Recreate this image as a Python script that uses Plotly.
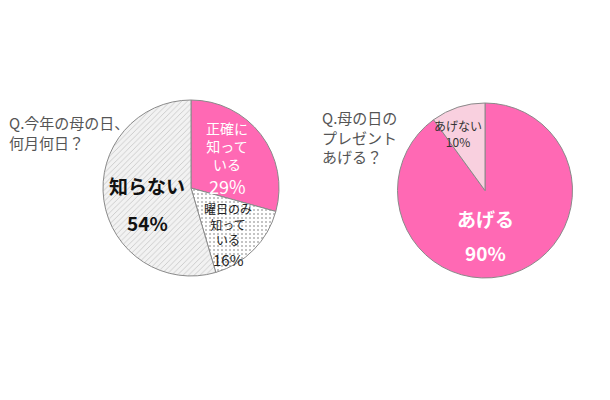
import plotly.graph_objects as go

W, H = 610, 400

# Left pie: 今年の母の日、何月何日？
q1_labels = ["正確に知っている", "曜日のみ知っている", "知らない"]
q1_values = [29, 16, 54]
q1_colors = ["#FF69B4", "#FFFFFF", "#F2F2F2"]
q1_patterns = ["", ".", "/"]

# Right pie: 母の日のプレゼントあげる？
q2_labels = ["あげる", "あげない"]
q2_values = [90, 10]
q2_colors = ["#FF69B4", "#F9D0DF"]

FONT = "Noto Sans CJK JP, Noto Sans, sans-serif"

def px_x(x):
    return x / W

def px_y(y):
    return 1 - y / H

fig = go.Figure()

fig.add_trace(go.Pie(
    labels=q1_labels, values=q1_values, sort=False, direction="clockwise",
    rotation=0, textinfo="none", hoverinfo="label+percent", showlegend=False,
    marker=dict(colors=q1_colors, line=dict(color="#8a8a8a", width=1),
                pattern=dict(shape=q1_patterns, fgcolor=["#FF69B4", "#b0b0b0", "#c4c4c4"],
                             bgcolor=q1_colors, size=4, solidity=0.2)),
    domain=dict(x=[px_x(103), px_x(279)], y=[px_y(276), px_y(100)]),
))

fig.add_trace(go.Pie(
    labels=q2_labels, values=q2_values, sort=False, direction="clockwise",
    rotation=0, textinfo="none", hoverinfo="label+percent", showlegend=False,
    marker=dict(colors=q2_colors, line=dict(color="#8a8a8a", width=1)),
    domain=dict(x=[px_x(397), px_x(573)], y=[px_y(278), px_y(103)]),
))

def ann(text, x, y, size, color, bold=False, xanchor="center", yanchor="middle", align="center"):
    if bold:
        text = "<b>" + text + "</b>"
    fig.add_annotation(text=text, x=px_x(x), y=px_y(y), xref="paper", yref="paper",
                       showarrow=False, xanchor=xanchor, yanchor=yanchor, align=align,
                       borderpad=0,
                       font=dict(family=FONT, size=size, color=color))

# Titles
ann("Q.今年の母の日、<br>何月何日？", 8, 132, 15, "#555555", xanchor="left", align="left")
ann("Q.母の日の<br>プレゼント<br>あげる？", 321, 137, 15, "#555555", xanchor="left", align="left")

# Left pie labels
ann("正確に<br>知って<br>いる", 227, 146, 14, "#FFFFFF")
ann("29%", 227, 186, 18, "#FFFFFF")
ann("曜日のみ<br>知って<br>いる", 228, 224, 12, "#222222")
ann("16%", 228, 259, 15, "#222222")
ann("知らない", 147, 185, 19, "#111111", bold=True)
ann("54%", 147, 222, 19, "#111111", bold=True)

# Right pie labels
ann("あげない<br>10%", 458, 133, 12, "#333333")
ann("あげる", 485, 218, 19, "#FFFFFF", bold=True)
ann("90%", 485, 253, 19, "#FFFFFF", bold=True)

fig.update_layout(width=W, height=H, margin=dict(l=0, r=0, t=0, b=0),
                  paper_bgcolor="#FFFFFF", plot_bgcolor="#FFFFFF",
                  font=dict(family=FONT))

fig.write_html("out.html", config={"displayModeBar": False},
               post_script="document.body.style.margin='0';")
